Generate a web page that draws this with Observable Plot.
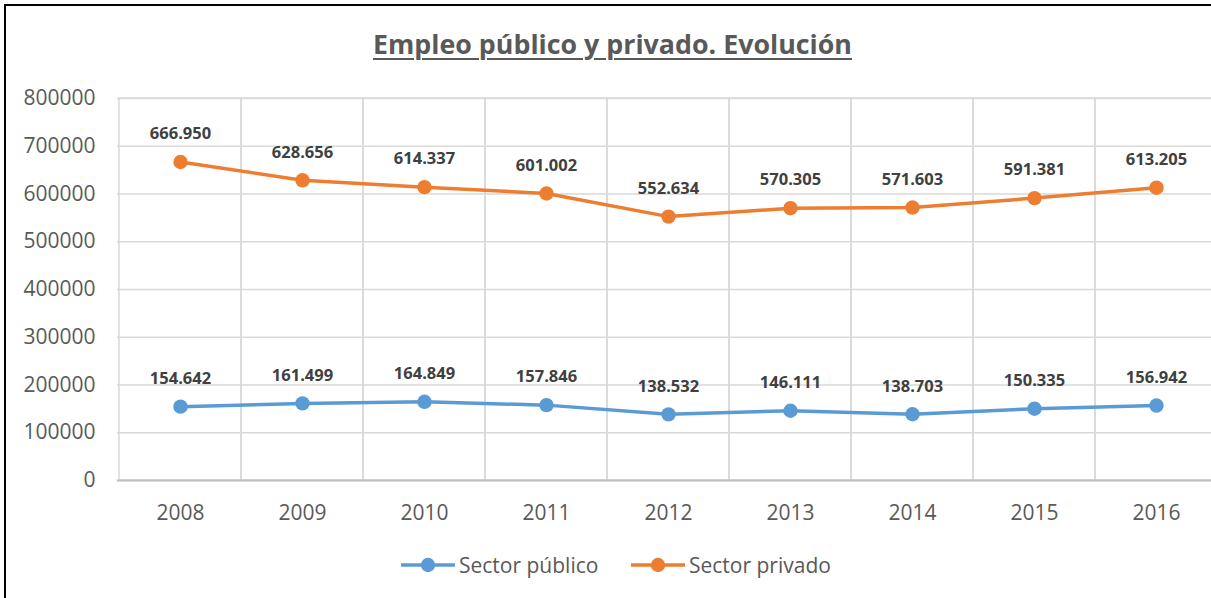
<!DOCTYPE html>
<html>
<head>
<meta charset="utf-8">
<script src="https://cdn.jsdelivr.net/npm/d3@7"></script>
<script src="https://cdn.jsdelivr.net/npm/@observablehq/plot@0.6"></script>
<style>
  html, body { margin: 0; padding: 0; background: #fff; overflow: hidden; }
  #wrap { position: relative; width: 1211px; height: 598px; overflow: hidden; background: #fff; font-family: "Open Sans", sans-serif; }
  #frame { position: absolute; left: 4px; top: 4px; width: 1300px; height: 700px; border-top: 2px solid #000; border-left: 2px solid #000; box-sizing: border-box; pointer-events: none; }
  #chart { position: absolute; left: 0; top: 0; }
  #title { position: absolute; top: 31px; left: 0; white-space: nowrap; font-family: "Open Sans", sans-serif; font-weight: 700; font-size: 26.6px; line-height: 1; color: #595959; text-decoration: underline; text-decoration-thickness: 2px; text-underline-offset: 4px; transform-origin: 0 0; }
  #legend { position: absolute; top: 553px; left: 0; white-space: nowrap; font-family: "Open Sans", sans-serif; font-size: 21px; line-height: 24px; color: #595959; }
  .item { position: absolute; top: 0; display: flex; align-items: center; }
  .item svg { display: block; margin-right: 3px; }
</style>
</head>
<body>
<div id="wrap">
  <div id="chart"></div>
  <div id="title"></div>
  <div id="legend"></div>
  <div id="frame"></div>
</div>
<script>
const titleText = "Empleo público y privado. Evolución";
const years = ["2008", "2009", "2010", "2011", "2012", "2013", "2014", "2015", "2016"];
const seriesNames = ["Sector público", "Sector privado"];
const seriesColors = ["#5B9BD5", "#ED7D31"];
const publico = [154642, 161499, 164849, 157846, 138532, 146111, 138703, 150335, 156942];
const privado = [666950, 628656, 614337, 601002, 552634, 570305, 571603, 591381, 613205];
const yTicks = [0, 100000, 200000, 300000, 400000, 500000, 600000, 700000, 800000];

const rows = [];
years.forEach((y, i) => rows.push({year: y, value: publico[i], series: seriesNames[0]}));
years.forEach((y, i) => rows.push({year: y, value: privado[i], series: seriesNames[1]}));

const loc = d3.formatLocale({decimal: ",", thousands: ".", grouping: [3], currency: ["", "€"]});
const fmtLabel = loc.format(",d");

const chart = Plot.plot({
  width: 1211,
  height: 598,
  marginTop: 98,
  marginBottom: 118,
  marginLeft: 117,
  marginRight: 0,
  style: {fontFamily: "Open Sans, sans-serif", background: "transparent", overflow: "visible"},
  x: {type: "band", domain: years, range: [117, 1219.5], padding: 0},
  y: {domain: [0, 800000], ticks: yTicks},
  color: {domain: seriesNames, range: seriesColors},
  marks: [
    Plot.gridY(yTicks, {stroke: "#d9d9d9", strokeOpacity: 1, strokeWidth: 1.5}),
    Plot.cell(years, {x: d => d, fill: "none", stroke: "#d9d9d9", strokeWidth: 1.5, inset: 0}),
    Plot.ruleY([0], {stroke: "#bfbfbf", strokeWidth: 2}),
    Plot.axisY(yTicks, {tickSize: 0, tickPadding: 22, tickFormat: d3.format("d"), fontSize: 21, fill: "#595959", label: null}),
    Plot.axisX({tickSize: 0, tickPadding: 25, fontSize: 21, fill: "#595959", label: null}),
    Plot.line(rows, {x: "year", y: "value", z: "series", stroke: "series", strokeWidth: 3.5, curve: "linear"}),
    Plot.dot(rows, {x: "year", y: "value", fill: "series", r: 7.2, stroke: "none"}),
    Plot.text(rows, {x: "year", y: "value", text: d => fmtLabel(d.value), dy: -28, fontSize: 16.5, fontWeight: "bold", fill: "#404040"})
  ]
});
chart.style.maxWidth = "none";
document.getElementById("chart").appendChild(chart);

// Title
const t = document.getElementById("title");
t.textContent = titleText;
const tw = t.getBoundingClientRect().width;
const targetW = 479;
const sx = targetW / tw;
t.style.transform = `scaleX(${sx})`;
t.style.left = (612.5 - targetW / 2) + "px";

// Legend
const legend = document.getElementById("legend");
const lefts = [401, 631];
seriesNames.forEach((name, i) => {
  const item = document.createElement("div");
  item.className = "item";
  item.style.left = lefts[i] + "px";
  const ns = "http://www.w3.org/2000/svg";
  const s = document.createElementNS(ns, "svg");
  s.setAttribute("width", 55); s.setAttribute("height", 24);
  const ln = document.createElementNS(ns, "line");
  ln.setAttribute("x1", 0); ln.setAttribute("x2", 54); ln.setAttribute("y1", 12); ln.setAttribute("y2", 12);
  ln.setAttribute("stroke", seriesColors[i]); ln.setAttribute("stroke-width", 3.5);
  const c = document.createElementNS(ns, "circle");
  c.setAttribute("cx", 27); c.setAttribute("cy", 12); c.setAttribute("r", 7.2); c.setAttribute("fill", seriesColors[i]);
  s.appendChild(ln); s.appendChild(c);
  const span = document.createElement("span");
  span.textContent = name;
  item.appendChild(s); item.appendChild(span);
  legend.appendChild(item);
});
</script>
</body>
</html>
